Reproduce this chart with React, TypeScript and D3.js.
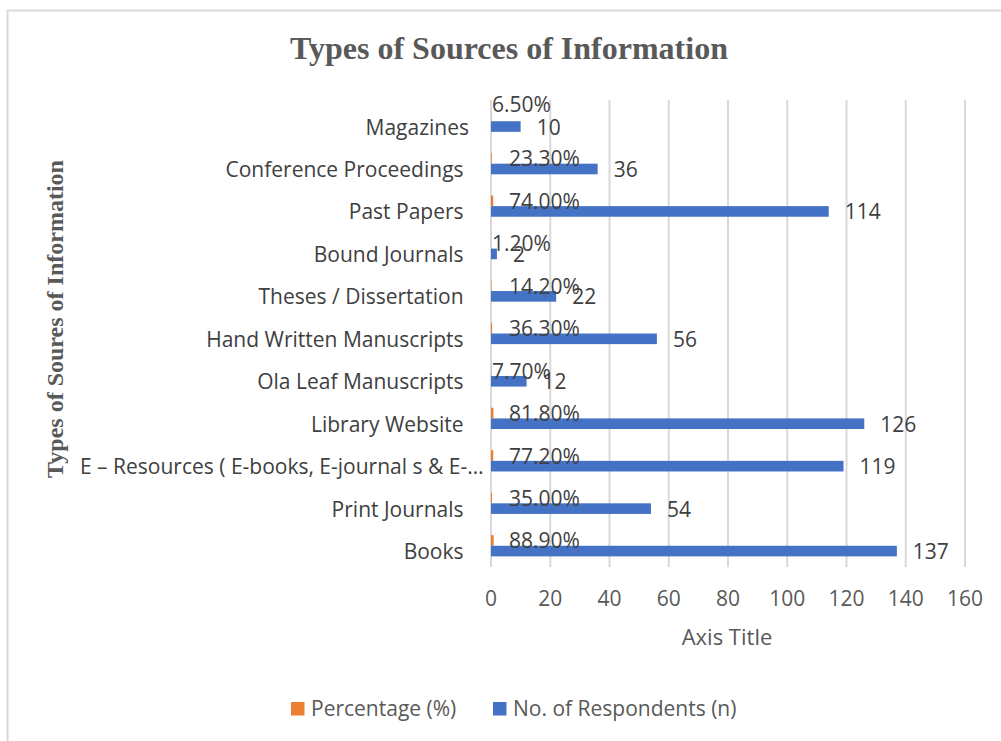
import { useRef, useEffect } from 'react';
import * as d3 from 'd3';

// top to bottom as drawn
const categories = [
  'Magazines',
  'Conference Proceedings ',
  'Past Papers ',
  'Bound Journals ',
  'Theses / Dissertation ',
  'Hand Written Manuscripts ',
  'Ola Leaf Manuscripts ',
  'Library Website ',
  'E – Resources ( E-books, E-journal s & E-…',
  'Print Journals ',
  'Books ',
];
const respondents = [10, 36, 114, 2, 22, 56, 12, 126, 119, 54, 137];
const percentages = [0.065, 0.233, 0.74, 0.012, 0.142, 0.363, 0.077, 0.818, 0.772, 0.35, 0.889];
const xTicks = [0, 20, 40, 60, 80, 100, 120, 140, 160];

const W = 1001;
const H = 741;
const PLOT = { left: 491, right: 965, top: 100, bottom: 567 };
const BLUE = '#4472C4';
const ORANGE = '#ED7D31';
const GRID = '#D9D9D9';
const SANS = '"Open Sans", sans-serif';
const SERIF = '"Liberation Serif", "Times New Roman", serif';
const FS = 21;

export default function App() {
  const svgRef = useRef<SVGSVGElement>(null);

  useEffect(() => {
    document.body.style.margin = '0';
    const svg = svgRef.current;
    if (!svg) return;
    const root = d3.select(svg);
    root.selectAll('*').remove();

    const x = d3.scaleLinear().domain([0, 160]).range([PLOT.left, PLOT.right]);
    const y = d3.scaleBand().domain(categories).range([PLOT.top, PLOT.bottom]).paddingInner(0.5).paddingOuter(0.25);
    const sub = d3.scaleBand().domain(['pct', 'n']).range([0, y.bandwidth()]);

    // chart area border
    root.append('rect').attr('x', 7.5).attr('y', 10.5).attr('width', W + 20).attr('height', H + 20)
      .attr('fill', '#fff').attr('stroke', GRID).attr('stroke-width', 2);

    // Title
    root.append('text').attr('x', 509).attr('y', 59).attr('text-anchor', 'middle')
      .attr('font-family', SERIF).attr('font-weight', 700).attr('font-size', 32).attr('fill', '#595959')
      .text('Types of Sources of Information');

    // Grid
    xTicks.forEach(t => {
      root.append('line').attr('x1', x(t)).attr('x2', x(t)).attr('y1', PLOT.top).attr('y2', PLOT.bottom)
        .attr('stroke', GRID).attr('stroke-width', 2);
    });

    // x tick labels
    xTicks.forEach(t => {
      root.append('text').attr('x', x(t)).attr('y', 606).attr('text-anchor', 'middle')
        .attr('font-family', SANS).attr('font-size', FS).attr('fill', '#595959').text(t);
    });

    // Axis titles
    root.append('text').attr('x', 727).attr('y', 645).attr('text-anchor', 'middle')
      .attr('font-family', SANS).attr('font-size', 22).attr('fill', '#595959').text('Axis Title');
    root.append('text').attr('transform', `translate(63,319) rotate(-90)`).attr('text-anchor', 'middle')
      .attr('font-family', SERIF).attr('font-weight', 700).attr('font-size', 24).attr('fill', '#595959')
      .text('Types of Soures of Information');

    // Category labels (right aligned, but never starting left of x=80)
    categories.forEach(c => {
      const t = root.append('text').attr('x', 469).attr('y', y(c)! + sub('n')! + sub.bandwidth() / 2 + 8)
        .attr('text-anchor', 'end').attr('xml:space', 'preserve').style('white-space', 'pre')
        .attr('font-family', SANS).attr('font-size', FS).attr('fill', '#404040').text(c);
      const len = (t.node() as SVGTextElement).getComputedTextLength();
      if (469 - len < 80) t.attr('text-anchor', 'start').attr('x', 80);
    });

    // Bars
    categories.forEach((c, i) => {
      const by = y(c)!;
      root.append('rect').attr('x', x(0)).attr('y', by + sub('pct')!)
        .attr('width', x(percentages[i]) - x(0)).attr('height', sub.bandwidth()).attr('fill', ORANGE);
      root.append('rect').attr('x', x(0)).attr('y', by + sub('n')!)
        .attr('width', x(respondents[i]) - x(0)).attr('height', sub.bandwidth()).attr('fill', BLUE);
    });

    // Data labels
    categories.forEach((c, i) => {
      const by = y(c)!;
      const pct = percentages[i] * 100;
      const lift = i === 0 ? 12 : 0;
      root.append('text').attr('x', x(0) + (pct < 10 ? 1 : 18))
        .attr('y', by + sub('pct')! + sub.bandwidth() / 2 + 8 - lift)
        .attr('font-family', SANS).attr('font-size', FS).attr('fill', '#404040')
        .text(`${pct.toFixed(2)}%`);
      root.append('text').attr('x', x(respondents[i]) + 16)
        .attr('y', by + sub('n')! + sub.bandwidth() / 2 + 8)
        .attr('font-family', SANS).attr('font-size', FS).attr('fill', '#404040')
        .text(respondents[i]);
    });

    // Legend
    const legend = [
      { label: 'Percentage (%)', color: ORANGE, x: 291 },
      { label: 'No. of Respondents (n)', color: BLUE, x: 493 },
    ];
    legend.forEach(l => {
      root.append('rect').attr('x', l.x).attr('y', 702).attr('width', 13.5).attr('height', 13.5).attr('fill', l.color);
      root.append('text').attr('x', l.x + 20).attr('y', 716)
        .attr('font-family', SANS).attr('font-size', FS).attr('fill', '#595959').text(l.label);
    });
  }, []);

  return (
    <svg ref={svgRef} width={W} height={H} viewBox={`0 0 ${W} ${H}`} style={{ display: 'block', background: '#fff' }} />
  );
}
